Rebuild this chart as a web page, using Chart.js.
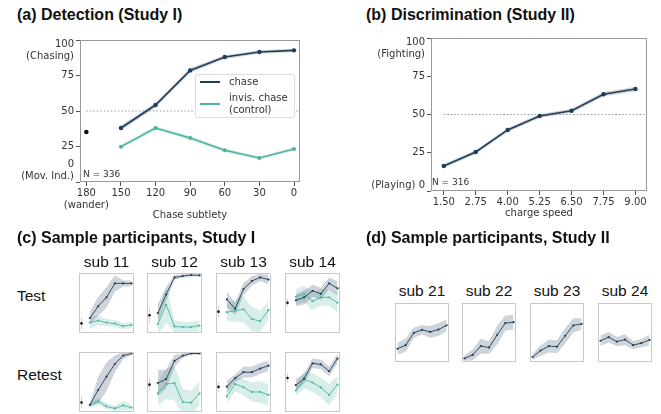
<!DOCTYPE html>
<html>
<head>
<meta charset="utf-8">
<script src="https://cdn.jsdelivr.net/npm/chart.js@4.4.1/dist/chart.umd.min.js"></script>
<style>
  body { margin: 0; width: 661px; height: 414px; overflow: hidden; background: #fff; position: relative;
         font-family: "Liberation Sans", Arial, sans-serif; color: #111; }
  canvas { position: absolute; }
  .t { position: absolute; white-space: nowrap; line-height: 1; z-index: 2; }
  .ttl { font-weight: bold; font-size: 16px; }
  .sub { font-size: 15.5px; transform: translateX(-50%); }
  .row { font-size: 15.5px; }
  .ax { font-family: "DejaVu Sans"; font-size: 10px; color: #333; transform: translateX(-50%); }
  .small { font-family: "DejaVu Sans"; font-size: 9px; color: #333; }
  .leg { position: absolute; z-index: 3; }
</style>
</head>
<body>
<canvas id="chartA" width="320" height="200" style="left:0;top:30px"></canvas>
<canvas id="chartB" width="331" height="200" style="left:330px;top:30px"></canvas>
<div id="smalls"></div>

<div class="t ttl" style="left:17px;top:7px">(a) Detection (Study I)</div>
<div class="t ttl" style="left:366px;top:7px">(b) Discrimination (Study II)</div>
<div class="t ttl" style="left:17px;top:230px">(c) Sample participants, Study I</div>
<div class="t ttl" style="left:366px;top:230px">(d) Sample participants, Study II</div>
<div class="t ax" style="left:190px;top:210px">Chase subtlety</div>
<div class="t ax" style="left:539px;top:208px">charge speed</div>
<div class="t small" style="left:83px;top:170px">N = 336</div>
<div class="t small" style="left:432px;top:178px">N = 316</div>
<div class="t row" style="left:17px;top:288px">Test</div>
<div class="t row" style="left:17px;top:367px">Retest</div>

<div class="leg" style="left:195px;top:74px;width:100px;height:44px;border:1px solid #ddd;border-radius:3px;background:rgba(255,255,255,0.8);box-sizing:border-box;z-index:2"></div>
<div class="leg" style="left:200px;top:81px;width:20px;height:2px;background:#1f3d58"></div>
<div class="leg" style="left:200px;top:103px;width:20px;height:2px;background:#4db39e"></div>
<div class="t" style="left:229px;top:76px;font:10px/12px 'DejaVu Sans';color:#333;z-index:3">chase</div>
<div class="t" style="left:229px;top:92px;font:10px/12px 'DejaVu Sans';color:#333;z-index:3">invis. chase<br>(control)</div>

<script>
// ---- panel (a) detection, study I ----
const aX = [150, 120, 90, 60, 30, 0];
const aChase = [38, 54.2, 78.6, 88, 91.5, 92.7];
const aChaseCI = [1.8, 1.8, 1.6, 1.3, 1.2, 1.2];
const aInvis = [24.9, 38, 31, 22.3, 16.9, 23.2];
const aInvisCI = [1.5, 1.5, 1.4, 1.3, 1.3, 1.3];
const aWanderX = [180];
const aWander = [35.2];
const aXTicks = [180, 150, 120, 90, 60, 30, 0];
const aXLabels = [['180', '(wander)'], '150', '120', '90', '60', '30', '0'];
const aYTicks = [0, 25, 50, 75, 100];
const aYLabels = [['0', '(Mov. Ind.)'], '25', '50', '75', ['100', '(Chasing)']];

// ---- panel (b) discrimination, study II ----
const bX = [1.5, 2.75, 4, 5.25, 6.5, 7.75, 9];
const bFight = [16.3, 25.5, 39.9, 49, 52.5, 63.2, 66.7];
const bCI = [1.3, 1.3, 1.3, 1.3, 1.3, 1.5, 1.5];
const bXLabels = ['1.50', '2.75', '4.00', '5.25', '6.50', '7.75', '9.00'];
const bYTicks = [0, 25, 50, 75, 100];
const bYLabels = ['(Playing) 0', '25', '50', '75', ['100', '(Fighting)']];

const chanceLevel = 50;

// ---- panel (c) sample participants, study I ----
const cSubs = ['sub 11', 'sub 12', 'sub 13', 'sub 14'];
const cX = [150, 120, 90, 60, 30, 0];
const testChase = [
  [24.8, 44.6, 59.4, 82.7, 82.7, 82.7],
  [33.2, 64.4, 92.6, 95, 96.5, 96],
  [55.9, 40.6, 73.3, 86.6, 92.6, 89.1],
  [54.5, 59.4, 70.3, 65.3, 82.7, 74.3]
];
const testChaseCI = [
  [10, 16, 17, 14, 5, 5],
  [15, 12, 4, 3, 2, 2],
  [13, 10, 10, 8, 6, 8],
  [10, 12, 10, 10, 10, 12]
];
const testInvis = [
  [17.3, 20.8, 17.3, 15.8, 11.4, 13.4],
  [14.9, 47, 10.9, 9.9, 9.9, 12.4],
  [34.7, 37.1, 39.6, 23.3, 19.8, 38.1],
  [60.4, 65.3, 53, 59.4, 59.4, 50.5]
];
const testInvisCI = [
  [10, 8, 6, 6, 5, 5],
  [18, 30, 10, 9, 9, 9],
  [15, 18, 22, 20, 18, 15],
  [12, 14, 15, 14, 14, 16]
];
const testWander = [16, 29.7, 35.6, 50.5];
const testWanderCI = [10, 12, 10, 6];

const retestChase = [
  [12, 36.6, 58.9, 80, 94, 97.5],
  [48.2, 55, 85.2, 94, 97.5, 97.5],
  [42.2, 56.5, 66.4, 66.4, 72.4, 77.2],
  [44.8, 55.7, 81.2, 79.3, 67.9, 89]
];
const retestChaseCI = [
  [3, 22, 24, 14, 6, 3],
  [22, 16, 10, 4, 2, 2],
  [10, 6, 9, 9, 9, 9],
  [10, 8, 8, 8, 8, 8]
];
const retestInvis = [
  [11.9, 17.8, 9.4, 5.9, 10.9, 7.4],
  [31, 46.7, 48.1, 16.5, 15.5, 30.8],
  [26, 46.7, 41.2, 33.4, 33.4, 28.4],
  [35.9, 54.2, 49.2, 40.9, 28.5, 45.8]
];
const retestInvisCI = [
  [4, 6, 5, 4, 8, 5],
  [20, 25, 28, 22, 20, 20],
  [12, 12, 14, 16, 18, 18],
  [10, 14, 16, 16, 18, 14]
];
const retestWander = [15.8, 45.6, 41.8, 56.6];
const retestWanderCI = [10, 10, 8, 8];

// ---- panel (d) sample participants, study II ----
const dSubs = ['sub 21', 'sub 22', 'sub 23', 'sub 24'];
const dVals = [
  [22.5, 28.5, 49.5, 54.5, 51, 55, 62],
  [6, 12, 27, 24.5, 46, 66, 67.5],
  [8.5, 19.5, 27, 26, 44.5, 62, 64.5],
  [36, 42, 34.5, 38, 28.5, 32, 37.5]
];
const dCI = [
  [10, 11, 9, 8, 10, 11, 10],
  [4.5, 9, 13, 10.5, 16, 13, 12.5],
  [5, 9, 11, 11, 13, 12, 10],
  [9, 9, 8, 9, 7, 7, 9]
];

const DARK = '#1f3d58', TEAL = '#4db39e';
const DARK_BAND = 'rgba(31,61,88,0.22)', TEAL_BAND = 'rgba(77,179,158,0.22)';
const TICK_FONT = { family: 'DejaVu Sans', size: 10 };

function pts(xs, ys) {
  return xs.map((x, i) => ({ x: x, y: ys[i] }));
}
function bandPts(xs, ys, ci, sign) {
  return xs.map((x, i) => ({ x: x, y: ys[i] + sign * ci[i] }));
}
function line(data, color, width, radius) {
  return { data: data, borderColor: color, backgroundColor: color, borderWidth: width,
           pointRadius: radius, pointBorderWidth: 0, tension: 0, fill: false };
}
function band(xs, ys, ci, color) {
  return [
    { data: bandPts(xs, ys, ci, 1), borderWidth: 0, pointRadius: 0, fill: '+1', backgroundColor: color, tension: 0 },
    { data: bandPts(xs, ys, ci, -1), borderWidth: 0, pointRadius: 0, fill: false, tension: 0 }
  ];
}

// draws the box round the plot area
const frame = {
  id: 'frame',
  afterDatasetsDraw(chart, args, opts) {
    const a = chart.chartArea, ctx = chart.ctx;
    ctx.save();
    ctx.strokeStyle = opts.color || '#999';
    ctx.lineWidth = 1;
    ctx.strokeRect(Math.round(a.left) + 0.5, Math.round(a.top) + 0.5,
                   Math.round(a.right - a.left) - 1, Math.round(a.bottom - a.top) - 1);
    ctx.restore();
  }
};
Chart.register(frame);

// y tick text, top label hangs below the tick, bottom label sits above it
function yText(ticks, labels) {
  return {
    id: 'yText',
    afterDraw(chart) {
      const ctx = chart.ctx, s = chart.scales.y;
      ctx.save();
      ctx.font = '10px "DejaVu Sans"';
      ctx.fillStyle = '#333';
      ctx.textAlign = 'right';
      ctx.textBaseline = 'middle';
      const lh = 12;
      ticks.forEach((v, i) => {
        const lines = [].concat(labels[i]);
        const py = s.getPixelForValue(v);
        let y0;
        if (v === s.max) y0 = py + 4;
        else if (v === s.min) y0 = py - 6 - (lines.length - 1) * lh;
        else y0 = py - (lines.length - 1) * lh / 2;
        lines.forEach((txt, k) => ctx.fillText(txt, s.right - 6, y0 + k * lh));
      });
      ctx.restore();
    }
  };
}

function axisGrid() {
  return { drawOnChartArea: false, drawTicks: true, tickLength: 4, color: '#555' };
}

// panel (a)
new Chart(document.getElementById('chartA'), {
  type: 'line',
  data: {
    datasets: [
      line(pts(aX, aChase), DARK, 1.6, 2.2),
      line(pts(aX, aInvis), TEAL, 1.6, 2.0),
      Object.assign(line(pts(aWanderX, aWander), '#111', 0, 2.3), { showLine: false }),
      Object.assign(line([{ x: aXTicks[0], y: chanceLevel }, { x: -5.2, y: chanceLevel }], '#999', 1, 0),
                    { borderDash: [1.5, 2] }),
      ...band(aX, aChase, aChaseCI, DARK_BAND),
      ...band(aX, aInvis, aInvisCI, TEAL_BAND)
    ]
  },
  options: {
    responsive: false, animation: false, devicePixelRatio: 1,
    layout: { padding: { top: 10, right: 20, left: 0, bottom: 0 } },
    plugins: { legend: { display: false }, tooltip: { enabled: false }, frame: { color: '#999' } },
    scales: {
      x: {
        type: 'linear', reverse: true, min: -5.2, max: 185.5,
        afterBuildTicks: s => { s.ticks = aXTicks.map(v => ({ value: v })); },
        afterFit: s => { s.height = 48; },
        ticks: { callback: (v, i) => aXLabels[i], font: Object.assign({ lineHeight: 1.25 }, TICK_FONT),
                 color: '#333', padding: 1, maxRotation: 0, autoSkip: false },
        grid: axisGrid(), border: { display: false }
      },
      y: {
        min: 0, max: 100,
        afterBuildTicks: s => { s.ticks = aYTicks.map(v => ({ value: v })); },
        afterFit: s => { s.width = 80; },
        ticks: { display: false },
        grid: axisGrid(), border: { display: false }
      }
    }
  },
  plugins: [yText(aYTicks, aYLabels)]
});

// panel (b)
new Chart(document.getElementById('chartB'), {
  type: 'line',
  data: {
    datasets: [
      line(pts(bX, bFight), DARK, 1.6, 2.2),
      Object.assign(line([{ x: bX[0], y: chanceLevel }, { x: 9.45, y: chanceLevel }], '#999', 1, 0),
                    { borderDash: [1.5, 2] }),
      ...band(bX, bFight, bCI, DARK_BAND)
    ]
  },
  options: {
    responsive: false, animation: false, devicePixelRatio: 1,
    layout: { padding: { top: 8, right: 14, left: 0, bottom: 0 } },
    plugins: { legend: { display: false }, tooltip: { enabled: false }, frame: { color: '#999' } },
    scales: {
      x: {
        type: 'linear', min: 1.0, max: 9.45,
        afterBuildTicks: s => { s.ticks = bX.map(v => ({ value: v })); },
        afterFit: s => { s.height = 39; },
        ticks: { callback: (v, i) => bXLabels[i], font: TICK_FONT, color: '#333',
                 padding: 1, maxRotation: 0, autoSkip: false },
        grid: axisGrid(), border: { display: false }
      },
      y: {
        min: 0, max: 100,
        afterBuildTicks: s => { s.ticks = bYTicks.map(v => ({ value: v })); },
        afterFit: s => { s.width = 101; },
        ticks: { display: false },
        grid: axisGrid(), border: { display: false }
      }
    }
  },
  plugins: [yText(bYTicks, bYLabels)]
});

// small panels
const holder = document.getElementById('smalls');
function smallChart(left, top, w, h, datasets, xmin, xmax, reverse) {
  const c = document.createElement('canvas');
  c.width = w; c.height = h;
  c.style.left = left + 'px'; c.style.top = top + 'px';
  holder.appendChild(c);
  new Chart(c, {
    type: 'line',
    data: { datasets: datasets },
    options: {
      responsive: false, animation: false, devicePixelRatio: 1,
      layout: { padding: 0 },
      plugins: { legend: { display: false }, tooltip: { enabled: false }, frame: { color: '#c8c8c8' } },
      scales: {
        x: { type: 'linear', display: false, min: xmin, max: xmax, reverse: reverse },
        y: { display: false, min: 0, max: 100 }
      }
    }
  });
}
function label(text, cx, top) {
  const d = document.createElement('div');
  d.className = 't sub';
  d.style.left = cx + 'px'; d.style.top = top + 'px';
  d.textContent = text;
  document.body.appendChild(d);
}

function studyOneSets(ch, chCI, inv, invCI, w, wCI) {
  return [
    line(pts(cX, ch), DARK, 0.9, 1.1),
    line(pts(cX, inv), TEAL, 0.9, 1.1),
    Object.assign(line([{ x: aXTicks[0], y: w }], '#111', 0, 1.3), { showLine: false }),
    line([{ x: aXTicks[0], y: w - wCI }, { x: aXTicks[0], y: w + wCI }], '#c4c4c4', 0.8, 0),
    ...band(cX, ch, chCI, DARK_BAND),
    ...band(cX, inv, invCI, TEAL_BAND)
  ];
}

const cLeft = [75, 143, 212, 281];
cSubs.forEach((name, i) => {
  label(name, cLeft[i] + 31.5, 254);
  smallChart(cLeft[i], 269, 63, 68,
    studyOneSets(testChase[i], testChaseCI[i], testInvis[i], testInvisCI[i], testWander[i], testWanderCI[i]),
    -9, 189, true);
  smallChart(cLeft[i], 348, 63, 68,
    studyOneSets(retestChase[i], retestChaseCI[i], retestInvis[i], retestInvisCI[i], retestWander[i], retestWanderCI[i]),
    -9, 189, true);
});

const dLeft = [391, 458, 526, 594];
dSubs.forEach((name, i) => {
  label(name, dLeft[i] + 31, 283);
  smallChart(dLeft[i], 299, 62, 67,
    [line(pts(bX, dVals[i]), DARK, 0.9, 1.1), ...band(bX, dVals[i], dCI[i], DARK_BAND)],
    1.125, 9.375, false);
});
</script>
</body>
</html>
